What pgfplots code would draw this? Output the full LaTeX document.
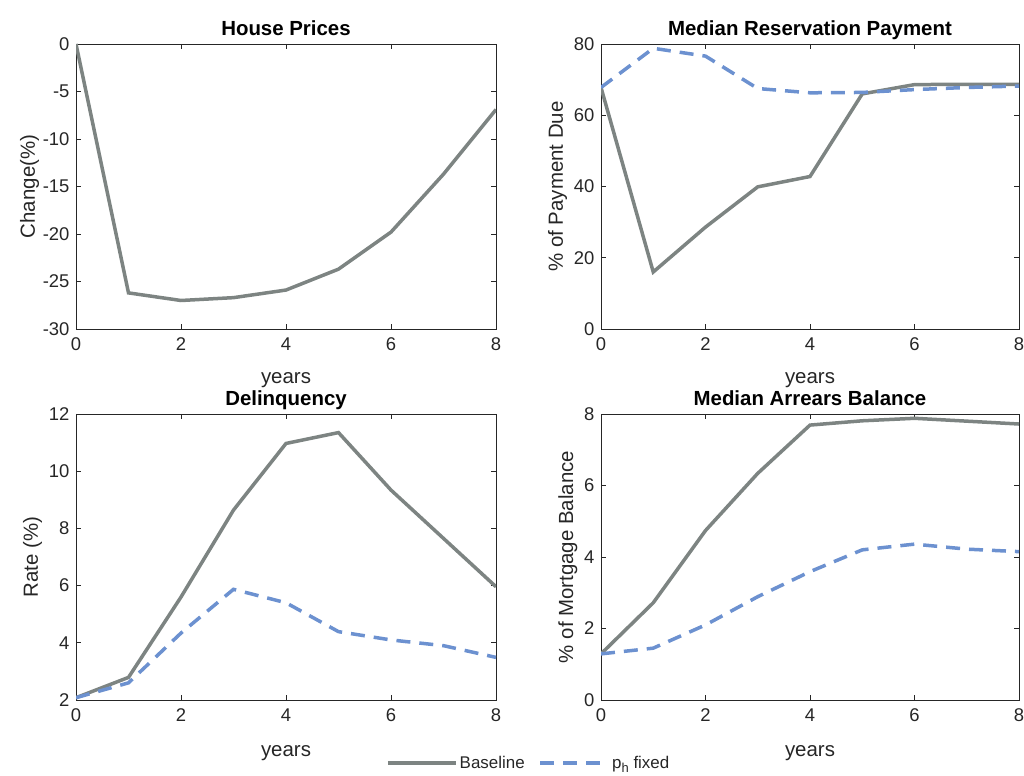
\documentclass[border=0pt]{standalone}
\usepackage{fontspec}
\setmainfont{Liberation Sans}
\usepackage{pgfplots}
\pgfplotsset{compat=1.18}
\definecolor{gline}{RGB}{125,132,130}
\definecolor{bline}{RGB}{108,145,208}
\definecolor{axc}{RGB}{38,38,38}
\pgfplotsset{
  mystyle/.style={
    scale only axis, width=420bp, height=285bp,
    xmin=0, xmax=8, xtick={0,2,...,8},
    axis line style={axc, line width=0.6bp},
    tick style={axc, line width=0.6bp},
    major tick length=5bp,
    tick label style={font=\fontsize{18.5}{22}\selectfont, text=axc},
    label style={font=\fontsize{20.5}{24}\selectfont, text=axc},
    title style={font=\fontsize{20.5}{24}\selectfont\bfseries, text=black, at={(0.5,1)}, anchor=base, yshift=2.5bp},
    /pgf/number format/assume math mode=true,
    xlabel={years},
    xlabel style={yshift=-15bp},
    ylabel style={yshift=0bp},
    xticklabel style={yshift=-5bp},
    yticklabel style={xshift=-3bp},
  },
  base/.style={gline, line width=3.5bp},
  fix/.style={bline, line width=3.5bp, dash pattern=on 14bp off 9bp},
}
\begin{document}
\begin{tikzpicture}
\useasboundingbox (0bp,0bp) rectangle (1024bp,776bp);
% House Prices
\begin{axis}[mystyle, at={(76bp,447bp)}, anchor=south west,
  ymin=-30, ymax=0, ytick={-30,-25,...,0},
  title={House Prices}, ylabel={Change(\%)}, ylabel style={yshift=-3bp}]
\addplot[base] coordinates {(0,0) (1,-26.2) (2,-27.0) (3,-26.7) (4,-25.9) (5,-23.7) (6,-19.8) (7,-13.7) (8,-6.9)};
\end{axis}
% Median Reservation Payment
\begin{axis}[mystyle, width=418bp, at={(601bp,447bp)}, anchor=south west,
  ymin=0, ymax=80, ytick={0,20,...,80},
  title={Median Reservation Payment}, ylabel={\% of Payment Due}]
\addplot[base] coordinates {(0,67.8) (1,16.0) (2,28.6) (3,39.9) (4,42.8) (5,66.0) (6,68.6) (7,68.7) (8,68.7)};
\addplot[fix] coordinates {(0,67.8) (1,78.8) (2,76.6) (3,67.5) (4,66.3) (5,66.4) (6,67.2) (7,67.8) (8,68.2)};
\end{axis}
% Delinquency
\begin{axis}[mystyle, height=286bp, at={(76bp,76bp)}, anchor=south west,
  ymin=2, ymax=12, ytick={2,4,...,12},
  title={Delinquency}, ylabel={Rate (\%)}, xlabel style={yshift=-2bp},
  legend columns=2,
  legend style={at={(1.078,-0.22)}, anchor=center, draw=none, fill=none,
    font=\fontsize{17}{20}\selectfont, text=axc,
    /tikz/every even column/.append style={column sep=12bp}},
  legend cell align=left,
  legend image code/.code={\draw[#1] (0bp,0bp) -- (68bp,0bp);}]
\addplot[base] coordinates {(0,2.08) (1,2.79) (2,5.6) (3,8.64) (4,10.97) (5,11.35) (6,9.34) (7,7.65) (8,5.96)};
\addplot[fix] coordinates {(0,2.08) (1,2.6) (2,4.34) (3,5.87) (4,5.4) (5,4.39) (6,4.1) (7,3.9) (8,3.49)};
\legend{Baseline, p\raisebox{-0.45ex}{\fontsize{13}{15}\selectfont h} fixed}
\end{axis}
% Median Arrears Balance
\begin{axis}[mystyle, width=418bp, height=286bp, at={(601bp,76bp)}, anchor=south west,
  ymin=0, ymax=8, ytick={0,2,...,8},
  title={Median Arrears Balance}, ylabel={\% of Mortgage Balance}, xlabel style={yshift=-2bp}]
\addplot[base] coordinates {(0,1.29) (1,2.72) (2,4.74) (3,6.34) (4,7.69) (5,7.81) (6,7.88) (7,7.8) (8,7.72)};
\addplot[fix] coordinates {(0,1.29) (1,1.45) (2,2.1) (3,2.89) (4,3.59) (5,4.2) (6,4.36) (7,4.22) (8,4.15)};
\end{axis}
\end{tikzpicture}
\end{document}
